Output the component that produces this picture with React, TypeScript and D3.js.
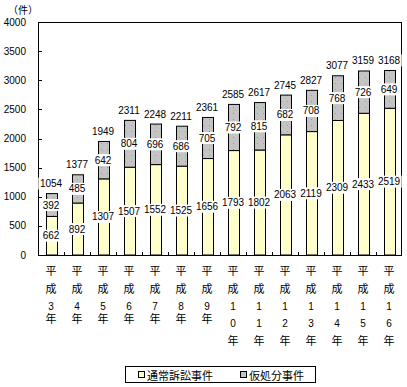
import React from "react";
import * as d3 from "d3";

const years = ["3", "4", "5", "6", "7", "8", "9", "10", "11", "12", "13", "14", "15", "16"];
const tsujo = [662, 892, 1307, 1507, 1552, 1525, 1656, 1793, 1802, 2063, 2119, 2309, 2433, 2519];
const karishobun = [392, 485, 642, 804, 696, 686, 705, 792, 815, 682, 708, 768, 726, 649];
const yTicks = [0, 500, 1000, 1500, 2000, 2500, 3000, 3500, 4000];
const seriesNames = ["通常訴訟事件", "仮処分事件"];

const W = 407;
const H = 387;
const left = 38;
const right = 402;
const top = 22;
const bottom = 255;

const numFont = "'Liberation Sans', Arial, sans-serif";
const jpFont = "'Noto Sans CJK JP', sans-serif";

const Label = ({ x, y, v }: { x: number; y: number; v: number }) => {
  const w = String(v).length * 5.6 + 3;
  return (
    <g>
      <rect x={x - w / 2} y={y - 6} width={w} height={12} fill="#fff" />
      <text x={x} y={y} textAnchor="middle" dominantBaseline="central" fontFamily={numFont} fontSize={10}>
        {v}
      </text>
    </g>
  );
};

export default function App() {
  const x = d3
    .scaleBand<string>()
    .domain(years)
    .range([left, right])
    .paddingInner(0.58)
    .paddingOuter(0.29);
  const y = d3.scaleLinear().domain([0, 4000]).range([bottom, top]);
  const bw = x.bandwidth();
  const step = x.step();

  return (
    <svg width={W} height={H} style={{ position: "absolute", left: 0, top: 0 }}>
      <defs>
        <pattern id="dots" width="6" height="6" patternUnits="userSpaceOnUse">
          <rect width="6" height="6" fill="#c4c4c4" />
          <rect x="1" y="1" width="1" height="1" fill="#d9a6d9" />
          <rect x="4" y="2" width="1" height="1" fill="#a9d0a9" />
          <rect x="2" y="4" width="1" height="1" fill="#e0b8e0" />
          <rect x="5" y="5" width="1" height="1" fill="#9a9a9a" />
        </pattern>
      </defs>
      <rect width={W} height={H} fill="#fff" />

      <text x={23} y={9} textAnchor="middle" dominantBaseline="central" fontFamily={jpFont} fontSize={10}>
        （件）
      </text>

      {/* plot frame */}
      <rect x={left + 0.5} y={top + 0.5} width={right - left - 1} height={bottom - top} fill="none" stroke="#000" />

      {yTicks.map((t) => (
        <g key={t}>
          <line x1={left} x2={left + 4} y1={Math.round(y(t)) + 0.5} y2={Math.round(y(t)) + 0.5} stroke="#000" />
          <text x={26} y={y(t)} textAnchor="end" dominantBaseline="central" fontFamily={numFont} fontSize={10}>
            {t}
          </text>
        </g>
      ))}

      {years.map((_, i) =>
        i === 0 ? null : (
          <line
            key={i}
            x1={Math.round(left + i * step) + 0.5}
            x2={Math.round(left + i * step) + 0.5}
            y1={bottom}
            y2={bottom - 3}
            stroke="#000"
          />
        )
      )}

      {years.map((yr, i) => {
        const a = tsujo[i];
        const b = karishobun[i];
        const x0 = Math.round(x(yr)!) + 0.5;
        const cx = x(yr)! + bw / 2;
        return (
          <g key={yr}>
            <rect x={x0} y={y(a)} width={Math.round(bw)} height={y(0) - y(a)} fill="#ffffcc" stroke="#000" />
            <rect x={x0} y={y(a + b)} width={Math.round(bw)} height={y(a) - y(a + b)} fill="url(#dots)" stroke="#000" />
          </g>
        );
      })}

      {years.map((yr, i) => {
        const a = tsujo[i];
        const b = karishobun[i];
        const cx = x(yr)! + bw / 2;
        return (
          <g key={yr}>
            <Label x={cx} y={y(a / 2)} v={a} />
            <Label x={cx} y={y(a + b / 2)} v={b} />
            <Label x={cx} y={y(a + b) - 10} v={a + b} />
          </g>
        );
      })}

      {years.map((yr) => {
        const cx = x(yr)! + bw / 2;
        const chars = yr.length === 1 ? ["平", "成", yr, "年"] : ["平", "成", yr[0], yr[1], "年"];
        const ys = yr.length === 1 ? [270, 288, 306, 318] : [270, 288, 306, 323, 340];
        return (
          <g key={yr}>
            {chars.map((c, j) => (
              <text
                key={j}
                x={cx}
                y={ys[j]}
                textAnchor="middle"
                dominantBaseline="central"
                fontFamily={/\d/.test(c) ? numFont : jpFont}
                fontSize={/\d/.test(c) ? 10 : 11}
              >
                {c}
              </text>
            ))}
          </g>
        );
      })}

      {/* legend */}
      <rect x={125.5} y={366.5} width={190} height={16} fill="#fff" stroke="#000" />
      <rect x={138.5} y={371.5} width={6} height={6} fill="#ffffcc" stroke="#000" />
      <text x={147} y={375} dominantBaseline="central" fontFamily={jpFont} fontSize={11}>
        {seriesNames[0]}
      </text>
      <rect x={240.5} y={371.5} width={6} height={6} fill="url(#dots)" stroke="#000" />
      <text x={249} y={375} dominantBaseline="central" fontFamily={jpFont} fontSize={11}>
        {seriesNames[1]}
      </text>
    </svg>
  );
}
